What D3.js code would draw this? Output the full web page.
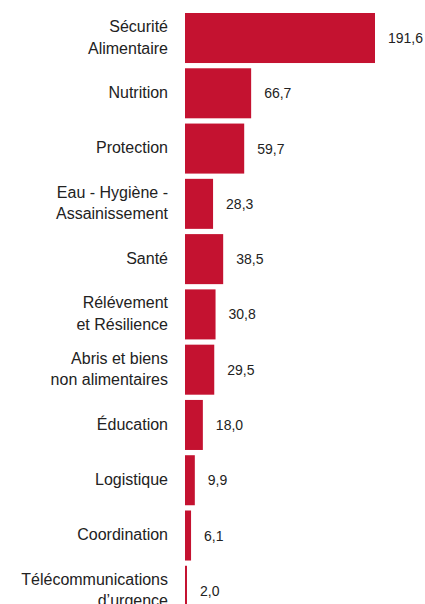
<!DOCTYPE html>
<html>
<head>
<meta charset="utf-8">
<script src="https://cdn.jsdelivr.net/npm/d3@7"></script>
<style>
  body{margin:0;background:#fff;}
  text{font-family:"Liberation Sans",Arial,sans-serif;fill:#222;}
</style>
</head>
<body>
<svg id="chart"></svg>
<script>
// categories (each line of the label) and values
var categories=[["Sécurité","Alimentaire"],["Nutrition"],["Protection"],["Eau - Hygiène -","Assainissement"],["Santé"],
  ["Rélévement","et Résilience"],["Abris et biens","non alimentaires"],["Éducation"],["Logistique"],["Coordination"],
  ["Télécommunications","d’urgence"]];
var values=[191.6,66.7,59.7,28.3,38.5,30.8,29.5,18.0,9.9,6.1,2.0];

var width=425,height=604;
var margin={left:185,top:13};

var svg=d3.select("#chart")
  .attr("width",width)
  .attr("height",height);

var xScale=d3.scaleLinear()
  .domain([0,191.6])
  .range([margin.left,375]);
var yScale=d3.scaleBand()
  .domain(d3.range(values.length))
  .range([margin.top,margin.top+54.8*values.length])
  .paddingInner(0.095)
  .paddingOuter(0);

var fmt=function(v){return d3.format(".1f")(v).replace(".",",");};

svg.selectAll("rect")
  .data(values)
  .enter()
  .append("rect")
  .attr("x",xScale(0))
  .attr("y",function(d,i){return yScale(i);})
  .attr("width",function(d){return xScale(d)-xScale(0);})
  .attr("height",yScale.bandwidth())
  .attr("fill","#c41230");

// value labels
svg.selectAll("text.val")
  .data(values)
  .enter()
  .append("text")
  .classed("val",true)
  .attr("x",function(d){return xScale(d)+13;})
  .attr("y",function(d,i){return yScale(i)+yScale.bandwidth()/2;})
  .attr("dy","0.36em")
  .style("font-size","14px")
  .text(fmt);

// category labels
var cat=svg.selectAll("text.cat")
  .data(categories)
  .enter()
  .append("text")
  .classed("cat",true)
  .attr("text-anchor","end")
  .attr("y",function(d,i){return yScale(i)+yScale.bandwidth()/2;})
  .style("font-size","16px");
cat.selectAll("tspan")
  .data(function(d){return d;})
  .enter()
  .append("tspan")
  .attr("x",168)
  .attr("dy",function(d,i,nodes){
    var n=nodes.length;
    return i==0 ? (0.3-(n-1)*0.675)+"em" : "1.35em";
  })
  .text(function(d){return d;});
</script>
</body>
</html>
